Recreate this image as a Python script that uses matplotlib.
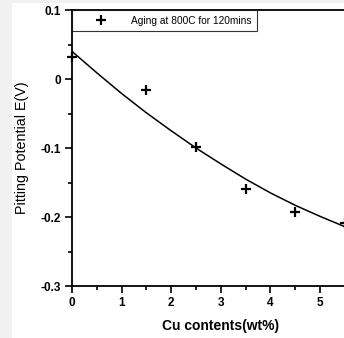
import matplotlib
matplotlib.use('Agg')
import matplotlib.pyplot as plt
from matplotlib.ticker import MultipleLocator
from matplotlib.patches import Rectangle

plt.rcParams['font.family'] = ['Liberation Sans', 'DejaVu Sans']

# measured points
cu = [0, 1.5, 2.5, 3.5, 4.5, 5.5]
potential = [0.032, -0.016, -0.099, -0.159, -0.193, -0.209]

# fitted curve
fit_x = [0, 0.5, 1, 1.5, 2, 2.5, 3, 3.5, 4, 4.5, 5, 5.5, 6]
fit_y = [0.040, 0.009, -0.021, -0.049, -0.075, -0.100, -0.123, -0.145,
         -0.165, -0.183, -0.199, -0.214, -0.227]

xticks = [0, 1, 2, 3, 4, 5]
yticks = [0.1, 0, -0.1, -0.2, -0.3]
ylabels = ['0.1', '0', '-0.1', '-0.2', '-0.3']

fig = plt.figure(figsize=(3.44, 3.38), dpi=100, facecolor='#f1f1f1')
# white page area (scan has a grey strip on the left)
fig.patches.append(Rectangle((12 / 344, 0), 1, 335 / 338, transform=fig.transFigure,
                             facecolor='white', edgecolor='none', zorder=-10))

ax = fig.add_axes([0.2093, 0.1538, 0.865, 0.8166])
ax.set_facecolor('white')

ax.plot(fit_x, fit_y, color='black', lw=1.1)
ax.plot(cu, potential, ls='none', marker='+', ms=7, mew=1.6, color='black',
        label='Aging at 800C for 120mins', clip_on=False)

ax.set_xlim(0, 6)
ax.set_ylim(-0.3, 0.1)
ax.set_xticks(xticks)
ax.xaxis.set_minor_locator(MultipleLocator(0.5))
ax.yaxis.set_minor_locator(MultipleLocator(0.05))
ax.set_yticks(yticks)
ax.set_yticklabels(ylabels)
ax.tick_params(which='both', direction='out', width=1.2, labelsize=8.5)
ax.tick_params(which='major', length=5, pad=3)
ax.tick_params(which='minor', length=3)
for lab in ax.get_xticklabels() + ax.get_yticklabels():
    lab.set_fontweight('bold')
for s in ax.spines.values():
    s.set_linewidth(1.3)

ax.set_xlabel('Cu contents(wt%)', fontsize=10, fontweight='bold', labelpad=7)
ax.set_ylabel('Pitting Potential E(V)', fontsize=10.3, labelpad=8)

leg = ax.legend(loc='upper left', bbox_to_anchor=(0, 1), borderaxespad=0,
                fontsize=7.3, frameon=True, fancybox=False, handlelength=4.7,
                borderpad=0.55, handletextpad=0.6)
leg.get_frame().set_edgecolor('black')
leg.get_frame().set_linewidth(0.8)

fig.savefig('out.png', dpi=100, facecolor=fig.get_facecolor())
